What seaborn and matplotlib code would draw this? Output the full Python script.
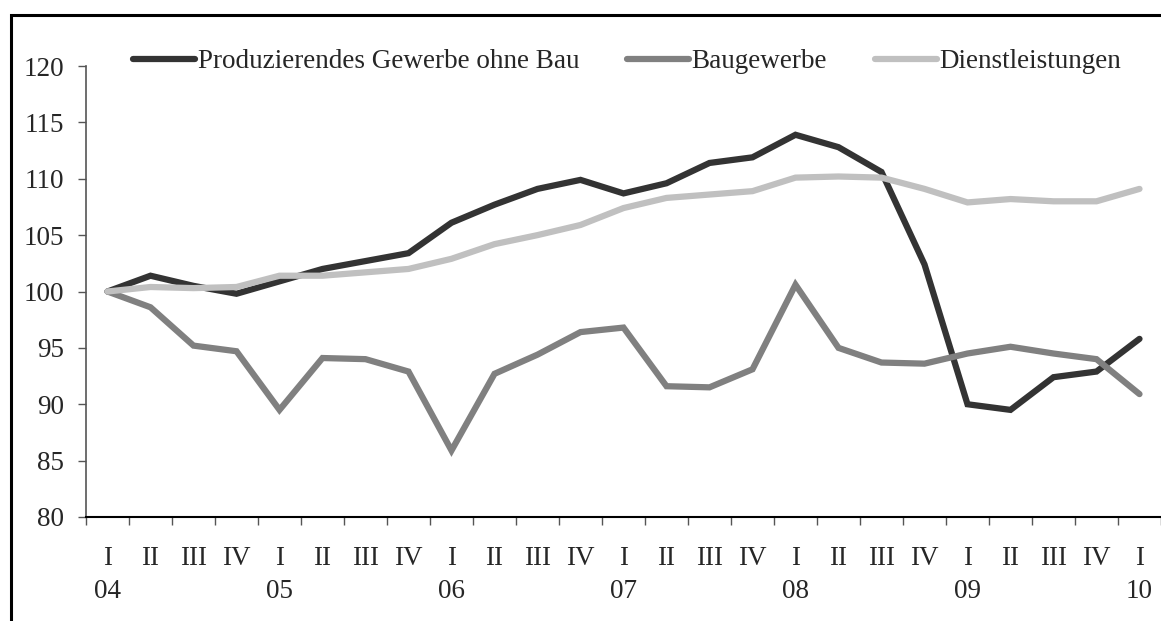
import numpy as np
import pandas as pd
import matplotlib
matplotlib.use("Agg")
import matplotlib.pyplot as plt
import seaborn as sns
from matplotlib.patches import Rectangle
from matplotlib.lines import Line2D
from matplotlib.ticker import FixedLocator, FixedFormatter

quarters = ["I", "II", "III", "IV"] * 6 + ["I"]
years = ["04", "", "", "", "05", "", "", "", "06", "", "", "", "07", "", "", "",
         "08", "", "", "", "09", "", "", "", "10"]

produzierendes = [100.0, 101.4, 100.5, 99.8, 100.9, 102.0, 102.7, 103.4, 106.1, 107.7,
                  109.1, 109.9, 108.7, 109.6, 111.4, 111.9, 113.9, 112.8, 110.6, 102.4,
                  90.0, 89.5, 92.4, 92.9, 95.8]
baugewerbe = [100.0, 98.6, 95.2, 94.7, 89.5, 94.1, 94.0, 92.9, 85.9, 92.7,
              94.4, 96.4, 96.8, 91.6, 91.5, 93.1, 100.6, 95.0, 93.7, 93.6,
              94.5, 95.1, 94.5, 94.0, 90.9]
dienstleistungen = [100.0, 100.4, 100.3, 100.4, 101.4, 101.4, 101.7, 102.0, 102.9, 104.2,
                    105.0, 105.9, 107.4, 108.3, 108.6, 108.9, 110.1, 110.2, 110.1, 109.1,
                    107.9, 108.2, 108.0, 108.0, 109.1]

series_names = ["Produzierendes Gewerbe ohne Bau", "Baugewerbe", "Dienstleistungen"]
series_colors = ["#333333", "#808080", "#c0c0c0"]

rows = []
for name, vals in zip(series_names, [produzierendes, baugewerbe, dienstleistungen]):
    for i, v in enumerate(vals):
        rows.append({"idx": i, "value": v, "series": name})
df = pd.DataFrame(rows)

sns.set_theme(style="white")
plt.rcParams["font.family"] = ["Liberation Serif", "DejaVu Serif"]

FS = 19.5
W, H = 1161, 621
fig = plt.figure(figsize=(W / 100, H / 100), dpi=100)
ax = fig.add_axes([86 / W, 1 - 517 / H, (1161 - 86) / W, (517 - 66) / H])

sns.lineplot(data=df, x="idx", y="value", hue="series", hue_order=series_names,
             palette=series_colors, linewidth=4.5, ax=ax, sort=False, legend=False)
for ln in ax.lines:
    ln.set_solid_capstyle("round")
    ln.set_solid_joinstyle("miter")

n = len(quarters)
ax.set_xlim(-0.5, n - 0.5)
ax.set_ylim(80, 120)
ax.set_yticks(np.arange(80, 121, 5))
ax.set_xlabel("")
ax.set_ylabel("")

# major ticks at category boundaries (no labels), minor at centers (labels)
ax.xaxis.set_major_locator(FixedLocator(np.arange(-0.5, n, 1.0)))
ax.xaxis.set_major_formatter(FixedFormatter([""] * (n + 1)))
ax.xaxis.set_minor_locator(FixedLocator(np.arange(n)))
labels = [q + "\n" + y for q, y in zip(quarters, years)]
ax.xaxis.set_minor_formatter(FixedFormatter(labels))
ax.tick_params(axis="x", which="major", direction="out", length=5.5, width=1, color="#555555", bottom=True)
ax.tick_params(axis="x", which="minor", length=0, pad=21, labelsize=FS)
for t in ax.xaxis.get_minor_ticks():
    t.label1.set_linespacing(1.42)
    t.label1.set_verticalalignment("top")
ax.tick_params(axis="y", direction="out", length=6, width=1, color="#555555", left=True,
               labelsize=FS, pad=10)

for s in ["top", "right"]:
    ax.spines[s].set_visible(False)
ax.spines["left"].set_color("#555555")
ax.spines["bottom"].set_color("black")
ax.spines["left"].set_linewidth(1.2)
ax.spines["bottom"].set_linewidth(1.5)
ax.grid(False)

handles = [Line2D([0], [0], color=c, lw=4.5, solid_capstyle="round") for c in series_colors]
fig.legend(handles, series_names, loc="center", bbox_to_anchor=(627 / W, 1 - 62 / H),
           ncol=3, frameon=False, fontsize=FS, handlelength=2.3, handletextpad=0.1,
           columnspacing=1.75, borderpad=0)

fig.patches.append(Rectangle((11 / W, -0.2), 2.0, 1.2 - 15 / H, transform=fig.transFigure,
                             fill=False, edgecolor="black", linewidth=2.2, zorder=10))

fig.savefig("out.png", dpi=100)
